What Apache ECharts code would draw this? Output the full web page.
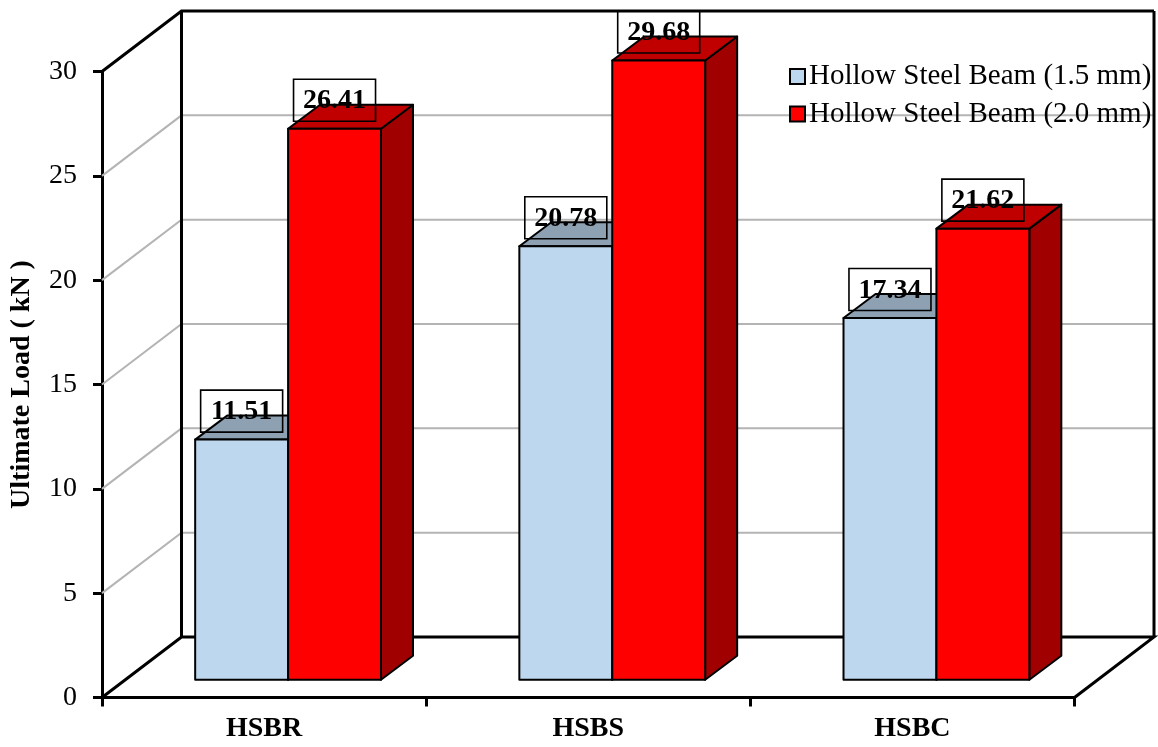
<!DOCTYPE html>
<html>
<head>
<meta charset="utf-8">
<style>html,body{margin:0;padding:0;background:#fff}#chart{width:1158px;height:747px}</style>
<script src="https://cdn.jsdelivr.net/npm/echarts@6/dist/echarts.min.js"></script>
</head>
<body>
<div id="chart"></div>
<script>
// Ultimate load of hollow steel beams, drawn as oblique 3D columns.
const categories = ['HSBR', 'HSBS', 'HSBC'];
const beam15 = [11.51, 20.78, 17.34];
const beam20 = [26.41, 29.68, 21.62];
const wallLevels = [0, 5, 10, 15, 20, 25, 30];

const SERIF = '"Liberation Serif", "Times New Roman", serif';
// Oblique projection offsets, in pixels
const WALL_DX = 79.5, WALL_DY = -60.5;   // front plane to back wall
const PLANE_DX = 24, PLANE_DY = -17.7;   // front plane to column front faces
const BAR_DX = 32, BAR_DY = -24;         // column depth
const BAR_RATIO = 0.2866;                // column width / category band

// Back wall, side wall and floor
function renderWall(params, api) {
  const cs = params.coordSys;
  const v = api.value(0);
  const y = api.coord([0, v])[1];
  const x0 = cs.x, x1 = cs.x + cs.width;
  const edge = v === 0 || v === 30;
  const style = { stroke: edge ? '#000' : '#b4b4b4', lineWidth: edge ? 3 : 2, fill: null };
  const pts = [[x0, y], [x0 + WALL_DX, y + WALL_DY], [x1 + WALL_DX, y + WALL_DY]];
  if (v === 0) pts.push([x1, y]);
  const children = [{ type: 'polyline', shape: { points: pts }, style }];
  if (v === 30) {
    const bottom = cs.y + cs.height + WALL_DY;
    [x0, x1].forEach(x => children.push({
      type: 'line',
      shape: { x1: x + WALL_DX, y1: y + WALL_DY, x2: x + WALL_DX, y2: bottom },
      style: { stroke: '#000', lineWidth: 3 }
    }));
  }
  return { type: 'group', children };
}

// One column: side, top and front faces plus the boxed value
function columnRenderer(side, colors) {
  return function (params, api) {
    const idx = api.value(0), val = api.value(1);
    const band = api.size([1, 0])[0];
    const w = band * BAR_RATIO;
    const base = api.coord([idx, 0]);
    const top = api.coord([idx, val]);
    const left = base[0] + PLANE_DX + (side < 0 ? -w : 0);
    const right = left + w;
    const yb = base[1] + PLANE_DY, yt = top[1] + PLANE_DY;
    const edge = { stroke: '#000', lineWidth: 2, lineJoin: 'round' };
    const cx = (left + right) / 2;
    const boxW = 82, boxH = 42, boxGap = 7.5;
    return {
      type: 'group',
      children: [
        { type: 'polygon',
          shape: { points: [[right, yt], [right + BAR_DX, yt + BAR_DY], [right + BAR_DX, yb + BAR_DY], [right, yb]] },
          style: Object.assign({ fill: colors.side }, edge) },
        { type: 'polygon',
          shape: { points: [[left, yt], [left + BAR_DX, yt + BAR_DY], [right + BAR_DX, yt + BAR_DY], [right, yt]] },
          style: Object.assign({ fill: colors.top }, edge) },
        { type: 'rect',
          shape: { x: left, y: yt, width: w, height: yb - yt },
          style: Object.assign({ fill: colors.front }, edge) },
        { type: 'rect',
          shape: { x: cx - boxW / 2, y: yt - boxGap - boxH, width: boxW, height: boxH },
          style: { fill: null, stroke: '#000', lineWidth: 1.6 } },
        { type: 'text',
          style: { text: val.toFixed(2), x: cx, y: yt - boxGap - boxH / 2 + 1,
                   align: 'center', verticalAlign: 'middle',
                   font: 'bold 28px ' + SERIF, fill: '#000' } }
      ]
    };
  };
}

const colors15 = { front: '#BDD7EE', top: '#8DA1B3', side: '#77879A' };
const colors20 = { front: '#FF0000', top: '#C00000', side: '#A00000' };

const chart = echarts.init(document.getElementById('chart'), null, { renderer: 'canvas' });
chart.setOption({
  animation: false,
  backgroundColor: '#fff',
  textStyle: { fontFamily: SERIF },
  grid: { left: 93.5, right: 83.5, top: 71.5, bottom: 49.5 },
  legend: {
    left: 789, top: 62, orient: 'vertical', itemGap: 8.5, itemWidth: 15, itemHeight: 15,
    icon: 'rect', padding: 0,
    data: ['Hollow Steel Beam (1.5 mm)', 'Hollow Steel Beam (2.0 mm)'],
    textStyle: { fontFamily: SERIF, fontSize: 29, color: '#000', padding: [0, 0, 0, -1] }
  },
  xAxis: {
    type: 'category', data: categories,
    axisLine: { lineStyle: { color: '#000', width: 3 } },
    axisTick: { show: true, alignWithLabel: false, length: 9, lineStyle: { color: '#000', width: 3 } },
    axisLabel: { fontFamily: SERIF, fontSize: 28, fontWeight: 'bold', color: '#000', margin: 17 }
  },
  yAxis: {
    type: 'value', min: 0, max: 30, interval: 5,
    name: 'Ultimate Load ( kN )', nameLocation: 'middle', nameGap: 66, nameRotate: 90,
    nameTextStyle: { fontFamily: SERIF, fontSize: 28, fontWeight: 'bold', color: '#000' },
    splitLine: { show: false },
    axisLine: { show: true, lineStyle: { color: '#000', width: 3 } },
    axisTick: { show: true, length: 9, lineStyle: { color: '#000', width: 3 } },
    axisLabel: { fontFamily: SERIF, fontSize: 28, color: '#000', margin: 25 }
  },
  series: [
    { type: 'custom', name: 'walls', z: 1, silent: true, clip: false,
      renderItem: renderWall, data: wallLevels.map(v => [v]),
      encode: { y: 0 } },
    { type: 'custom', name: 'Hollow Steel Beam (1.5 mm)', z: 2, clip: false,
      itemStyle: { color: colors15.front, borderColor: '#000', borderWidth: 2 },
      renderItem: columnRenderer(-1, colors15),
      data: beam15.map((v, i) => [i, v]), encode: { x: 0, y: 1 } },
    { type: 'custom', name: 'Hollow Steel Beam (2.0 mm)', z: 3, clip: false,
      itemStyle: { color: colors20.front, borderColor: '#000', borderWidth: 2 },
      renderItem: columnRenderer(1, colors20),
      data: beam20.map((v, i) => [i, v]), encode: { x: 0, y: 1 } }
  ]
});
</script>
</body>
</html>
